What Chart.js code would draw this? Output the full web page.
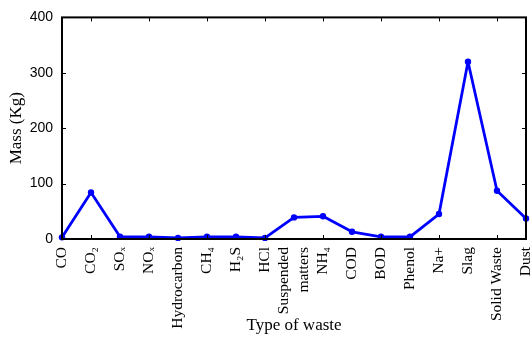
<!DOCTYPE html>
<html>
<head>
<meta charset="utf-8">
<script src="https://cdn.jsdelivr.net/npm/chart.js@4"></script>
<style>
  html, body { margin: 0; padding: 0; background: #fff; }
  #wrap { width: 530px; height: 337px; }
</style>
</head>
<body>
<div id="wrap"><canvas id="wasteChart" width="530" height="337"></canvas></div>
<script>
// categories along the x axis
const wasteTypes = ['CO', 'CO\u2082', 'SO\u2093', 'NO\u2093', 'Hydrocarbon', 'CH\u2084', 'H\u2082S', 'HCl',
    ['Suspended', 'matters'], 'NH\u2084', 'COD', 'BOD', 'Phenol', 'Na+', 'Slag', 'Solid Waste', 'Dust'];
// mass in kg
const massKg = [3, 84, 4, 4, 2, 4, 4, 2, 39, 41, 13, 4, 4, 45, 320, 87, 37];
const yTicks = [0, 100, 200, 300, 400];

// center two-line rotated labels on their tick (chart.js puts the first line on it)
const centerLines = {
    id: 'centerLines',
    beforeDraw(chart) {
        const items = chart.scales.x.getLabelItems();
        items.forEach(item => {
            if (Array.isArray(item.label) && !item._shifted) {
                const lh = item.font.lineHeight;
                item.options.translation[0] -= lh * (item.label.length - 1) / 2;
                item._shifted = true;
            }
        });
    }
};

// box around the plot plus small inward tick marks (matlab style)
const boxTicks = {
    id: 'boxTicks',
    afterDatasetsDraw(chart) {
        const ctx = chart.ctx;
        const a = chart.chartArea;
        const x = chart.scales.x;
        const y = chart.scales.y;
        ctx.save();
        ctx.strokeStyle = '#000';
        ctx.lineWidth = 1;
        for (let i = 1; i < wasteTypes.length; i += 2) {
            const px = Math.round(x.getPixelForValue(i)) + 0.5;
            ctx.beginPath();
            ctx.moveTo(px, a.bottom); ctx.lineTo(px, a.bottom - 4);
            ctx.moveTo(px, a.top); ctx.lineTo(px, a.top + 4);
            ctx.stroke();
        }
        yTicks.slice(1, -1).forEach(v => {
            const py = Math.round(y.getPixelForValue(v)) + 0.5;
            ctx.beginPath();
            ctx.moveTo(a.left, py); ctx.lineTo(a.left + 4, py);
            ctx.moveTo(a.right, py); ctx.lineTo(a.right - 4, py);
            ctx.stroke();
        });
        ctx.lineWidth = 2;
        ctx.strokeRect(a.left, a.top, a.right - a.left, a.bottom - a.top);
        ctx.restore();
    }
};

new Chart(document.getElementById('wasteChart'), {
    type: 'line',
    data: {
        labels: wasteTypes,
        datasets: [{
            data: massKg,
            borderColor: '#0000ff',
            backgroundColor: '#0000ff',
            borderWidth: 2.8,
            borderJoinStyle: 'round',
            pointRadius: 3.2,
            pointBorderWidth: 0,
            tension: 0,
            clip: 4
        }]
    },
    options: {
        responsive: false,
        animation: false,
        layout: { padding: { top: 17, right: 2, left: 0, bottom: 0 } },
        plugins: { legend: { display: false }, tooltip: { enabled: false } },
        scales: {
            x: {
                type: 'category',
                offset: false,
                grid: { display: false, drawTicks: false },
                border: { display: false },
                ticks: {
                    autoSkip: false,
                    minRotation: 90,
                    maxRotation: 90,
                    padding: 8,
                    color: '#000',
                    font: { family: 'Liberation Serif', size: 15.5, lineHeight: 1.3 }
                },
                title: {
                    display: true,
                    text: 'Type of waste',
                    color: '#000',
                    font: { family: 'Liberation Serif', size: 17 },
                    padding: { top: 0, bottom: 1 }
                },
                afterFit: s => {
                    s.height = 98;
                    s.paddingLeft = 0;
                    s.paddingRight = 0;
                }
            },
            y: {
                min: 0,
                max: 400,
                grid: { display: false, drawTicks: false },
                border: { display: false },
                afterBuildTicks: s => { s.ticks = yTicks.map(v => ({ value: v })); },
                ticks: {
                    padding: 9,
                    color: '#000',
                    font: { family: 'Liberation Sans', size: 14 }
                },
                title: {
                    display: true,
                    text: 'Mass (Kg)',
                    color: '#000',
                    font: { family: 'Liberation Serif', size: 17 },
                    padding: { top: 6, bottom: 0 }
                },
                afterFit: s => { s.width = 62; }
            }
        }
    },
    plugins: [centerLines, boxTicks]
});
</script>
</body>
</html>
